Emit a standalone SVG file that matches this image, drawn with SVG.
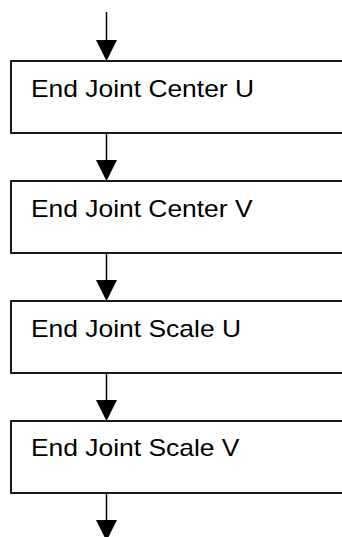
<svg xmlns="http://www.w3.org/2000/svg" width="342" height="537" viewBox="0 0 342 537">
<defs>
<style>
.box{fill:#fff;stroke:#000;stroke-width:1.8}
.lbl{font-family:"Liberation Sans",Arial,sans-serif;font-size:24px;fill:#000}
.ln{stroke:#000;stroke-width:1.5;fill:none}
.hd{fill:#000}
</style>
</defs>
<rect width="342" height="537" fill="#fff"/>
<g id="connectors">
<line class="ln" x1="106.5" y1="12" x2="106.5" y2="42"/>
<polygon class="hd" points="96,40 117,40 106.5,61"/>
<line class="ln" x1="106.5" y1="133" x2="106.5" y2="162"/>
<polygon class="hd" points="96,160 117,160 106.5,181"/>
<line class="ln" x1="106.5" y1="253" x2="106.5" y2="282"/>
<polygon class="hd" points="96,280 117,280 106.5,301"/>
<line class="ln" x1="106.5" y1="373" x2="106.5" y2="402"/>
<polygon class="hd" points="96,400 117,400 106.5,421"/>
<line class="ln" x1="106.5" y1="493" x2="106.5" y2="522"/>
<polygon class="hd" points="96,520 117,520 106.5,541"/>
</g>
<g id="node1">
<rect class="box" x="11" y="61" width="340" height="72"/>
<text class="lbl" x="31" y="96.5" textLength="223" lengthAdjust="spacingAndGlyphs">End Joint Center U</text>
</g>
<g id="node2">
<rect class="box" x="11" y="181" width="340" height="72"/>
<text class="lbl" x="31" y="216.5" textLength="221.5" lengthAdjust="spacingAndGlyphs">End Joint Center V</text>
</g>
<g id="node3">
<rect class="box" x="11" y="301" width="340" height="72"/>
<text class="lbl" x="31" y="336.5" textLength="210" lengthAdjust="spacingAndGlyphs">End Joint Scale U</text>
</g>
<g id="node4">
<rect class="box" x="11" y="421" width="340" height="72"/>
<text class="lbl" x="31" y="455.5" textLength="208.5" lengthAdjust="spacingAndGlyphs">End Joint Scale V</text>
</g>
</svg>
